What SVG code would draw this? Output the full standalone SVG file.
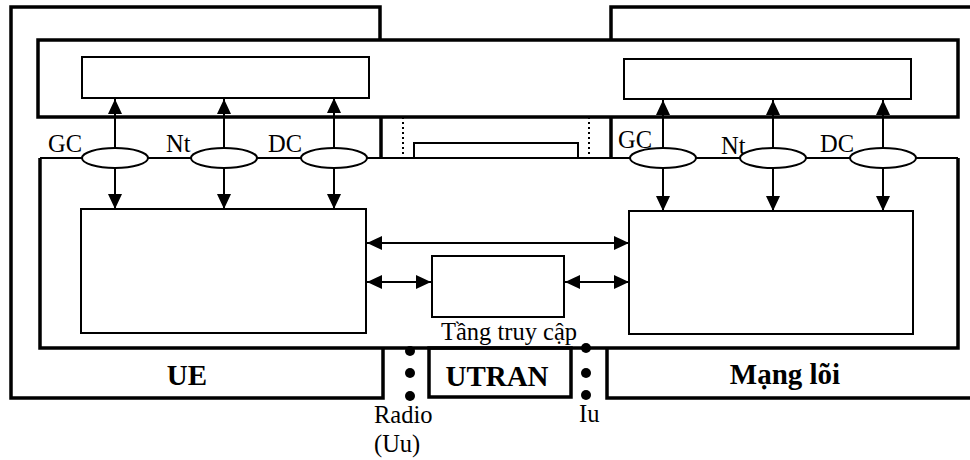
<svg xmlns="http://www.w3.org/2000/svg" width="970" height="460" viewBox="0 0 970 460">
<style>
.thick{fill:none;stroke:#000;stroke-width:3.5}
.thin{fill:none;stroke:#000;stroke-width:2}
.box{fill:#fff;stroke:#000;stroke-width:2}
.ell{fill:#fff;stroke:#000;stroke-width:2}
.dot{fill:#000}
.conn{fill:none;stroke:#000;stroke-width:2}
.t{font-family:"Liberation Serif","Times New Roman",serif;font-size:24.5px;fill:#000}
.b{font-family:"Liberation Serif","Times New Roman",serif;font-size:29px;font-weight:bold;fill:#000}
</style>
<defs>
<marker id="ah" viewBox="0 0 15 14" refX="15" refY="7" markerWidth="15" markerHeight="14" markerUnits="userSpaceOnUse" orient="auto-start-reverse">
<path d="M0,0 L15,7 L0,14 Z" fill="#000"/>
</marker>
</defs>
<rect width="970" height="460" fill="#fff"/>
<g id="ue">
<path class="thick" d="M383,348 V398 H11 V7 H380 V40"/>
<path class="thick" d="M381,117 V158"/>
<text class="b" x="187" y="385" text-anchor="middle">UE</text>
</g>
<g id="core">
<path class="thick" d="M611,40 V7 H975"/>
<path class="thick" d="M975,398 H607 V348"/>
<path class="thick" d="M611,117 V158"/>
<text class="b" x="785" y="384" text-anchor="middle">Mạng lõi</text>
</g>
<g id="upper-band">
<rect class="thick" x="38" y="40" width="920" height="77"/>
</g>
<g id="lower-band">
<path class="thick" d="M40,158 V348 H958 V158"/>
<path class="thin" d="M40,158 H958"/>
</g>
<g id="middle">
<path class="thin" d="M403,117 V158 M589,117 V158" stroke-dasharray="2,3"/>
<rect class="thin" x="414" y="143" width="164" height="15"/>
</g>
<g id="ue-upper-box"><rect class="box" x="82" y="57" width="287" height="41"/></g>
<g id="core-upper-box"><rect class="box" x="624" y="59" width="287" height="40"/></g>
<g id="ue-lower-box"><rect class="box" x="81" y="209" width="285" height="124"/></g>
<g id="core-lower-box"><rect class="box" x="629" y="211" width="284" height="123"/></g>
<g id="access-box">
<rect class="box" x="432" y="256" width="132" height="61"/>
<text class="t" x="441" y="340">Tầng truy cập</text>
</g>
<g id="utran">
<rect class="thick" x="429" y="348" width="142" height="49"/>
<text class="b" x="497" y="386" text-anchor="middle">UTRAN</text>
</g>
<g id="connectors">
<path class="conn" d="M115,148 V99" marker-end="url(#ah)"/>
<path class="conn" d="M224,148 V99" marker-end="url(#ah)"/>
<path class="conn" d="M334,148 V98" marker-end="url(#ah)"/>
<path class="conn" d="M115,168 V209" marker-end="url(#ah)"/>
<path class="conn" d="M224,168 V209" marker-end="url(#ah)"/>
<path class="conn" d="M334,168 V209" marker-end="url(#ah)"/>
<path class="conn" d="M663,148 V100" marker-end="url(#ah)"/>
<path class="conn" d="M773,148 V100" marker-end="url(#ah)"/>
<path class="conn" d="M883,148 V100" marker-end="url(#ah)"/>
<path class="conn" d="M663,168 V211" marker-end="url(#ah)"/>
<path class="conn" d="M773,168 V211" marker-end="url(#ah)"/>
<path class="conn" d="M883,168 V211" marker-end="url(#ah)"/>
<path class="conn" d="M367,243 H629" marker-start="url(#ah)" marker-end="url(#ah)"/>
<path class="conn" d="M367,282 H431" marker-start="url(#ah)" marker-end="url(#ah)"/>
<path class="conn" d="M565,282 H629" marker-start="url(#ah)" marker-end="url(#ah)"/>
</g>
<g id="sap-ue">
<ellipse class="ell" cx="115" cy="158" rx="33" ry="10"/>
<ellipse class="ell" cx="224" cy="158" rx="33" ry="10"/>
<ellipse class="ell" cx="334" cy="158" rx="33" ry="10"/>
<text class="t" x="48" y="152">GC</text>
<text class="t" x="166" y="152">Nt</text>
<text class="t" x="268" y="152">DC</text>
</g>
<g id="sap-core">
<ellipse class="ell" cx="663" cy="158" rx="33" ry="10"/>
<ellipse class="ell" cx="773" cy="158" rx="33" ry="10"/>
<ellipse class="ell" cx="883" cy="158" rx="33" ry="10"/>
<text class="t" x="618" y="148">GC</text>
<text class="t" x="721" y="154">Nt</text>
<text class="t" x="820" y="152">DC</text>
</g>
<g id="radio-if">
<circle class="dot" cx="410" cy="351" r="5"/>
<circle class="dot" cx="410" cy="373" r="5"/>
<circle class="dot" cx="410" cy="396" r="5"/>
<text class="t" x="374" y="423">Radio</text>
<text class="t" x="374" y="452">(Uu)</text>
</g>
<g id="iu-if">
<circle class="dot" cx="586" cy="348" r="5"/>
<circle class="dot" cx="586" cy="373" r="5"/>
<circle class="dot" cx="586" cy="395" r="5"/>
<text class="t" x="579" y="422">Iu</text>
</g>
</svg>
